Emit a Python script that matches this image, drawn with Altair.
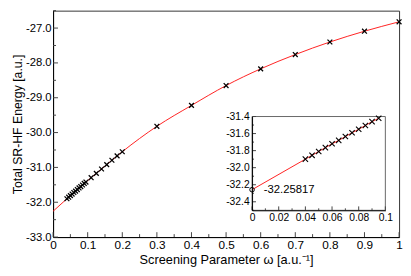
import altair as alt
import pandas as pd

# ---- data ----
w_zero = [0.0]
E_zero = [-32.25817]
w_dense = [0.04, 0.045, 0.05, 0.055, 0.06, 0.065, 0.07, 0.075, 0.08, 0.085, 0.09, 0.095]
E_dense = [-31.90, -31.855, -31.81, -31.765, -31.72, -31.68, -31.635, -31.59, -31.55, -31.505, -31.46, -31.42]
w_mid = [0.11, 0.125, 0.14, 0.155, 0.17, 0.185, 0.2]
E_mid = [-31.295, -31.17, -31.045, -30.92, -30.795, -30.67, -30.55]
w_far = [0.3, 0.4, 0.5, 0.6, 0.7, 0.8, 0.9, 1.0]
E_far = [-29.82, -29.22, -28.65, -28.17, -27.76, -27.40, -27.09, -26.82]

main_xdom = [0, 1]
main_ydom = [-33, -26.5]
main_xmajor = [0, 0.1, 0.2, 0.3, 0.4, 0.5, 0.6, 0.7, 0.8, 0.9, 1.0]
main_xminor = [0.05, 0.15, 0.25, 0.35, 0.45, 0.55, 0.65, 0.75, 0.85, 0.95]
main_ymajor = [-33, -32, -31, -30, -29, -28, -27]
main_yminor = [-32.5, -31.5, -30.5, -29.5, -28.5, -27.5, -26.5]

in_xdom = [0, 0.1]
in_ydom = [-32.5, -31.4]
in_xmajor = [0, 0.02, 0.04, 0.06, 0.08, 0.1]
in_xminor = [0.01, 0.03, 0.05, 0.07, 0.09]
in_ymajor = [-32.4, -32.2, -32.0, -31.8, -31.6, -31.4]
in_yminor = [-32.5, -32.3, -32.1, -31.9, -31.7, -31.5]
point_label = ["-32.25817"]

W, H = 353, 231
PADL = 46
IX0, IX1 = 257 - 8 - PADL, 393 - 8 - PADL
IYB, IYT = 203.7, 108

RED = "#ff2020"
minus_fix = "replace(format(datum.value, '.1f'), '\u2212', '-')"

# ---- main panel ----
mx = alt.Scale(domain=main_xdom, nice=False, zero=False)
my = alt.Scale(domain=main_ydom, nice=False, zero=False)
ax_mx = alt.Axis(orient="bottom", values=main_xmajor, format="~g", ticks=False, grid=False,
                 title="Screening Parameter \u03c9 [a.u.\u207b\u00b9]", labelFontSize=12,
                 titleFontSize=13, titleFontWeight="normal", labelPadding=3, titlePadding=3,
                 domainColor="black", labelColor="black", titleColor="black", labelFlush=False)
ax_my = alt.Axis(orient="left", values=main_ymajor, labelExpr=minus_fix, ticks=False, grid=False,
                 title="Total SR-HF Energy [a.u.]", labelFontSize=11.5, titleFontSize=12.5,
                 titleFontWeight="normal", labelPadding=2, titlePadding=1,
                 domainColor="black", labelColor="black", titleColor="black")

X = lambda f: alt.X(f, type="quantitative", scale=mx, axis=ax_mx)
Y = lambda f: alt.Y(f, type="quantitative", scale=my, axis=ax_my)

line_df = pd.DataFrame({"w": w_zero + w_dense + w_mid + w_far,
                        "E": E_zero + E_dense + E_mid + E_far})
pts_df = pd.DataFrame({"w": w_dense + w_mid + w_far, "E": E_dense + E_mid + E_far})

xshape = "M-1,-1L1,1M-1,1L1,-1"

m_line = alt.Chart(line_df).mark_line(color=RED, strokeWidth=1, interpolate="monotone").encode(x=X("w"), y=Y("E"))
m_pts = alt.Chart(pts_df).mark_point(shape=xshape, filled=False, color="black", size=24, strokeWidth=1.3, opacity=1).encode(x=X("w"), y=Y("E"))

m_xt1 = alt.Chart(pd.DataFrame({"w": main_xmajor})).mark_rule(color="#444").encode(x=X("w"), y=alt.value(H), y2=alt.value(H - 5))
m_xt2 = alt.Chart(pd.DataFrame({"w": main_xminor})).mark_rule(color="#444").encode(x=X("w"), y=alt.value(H), y2=alt.value(H - 3))
m_yt1 = alt.Chart(pd.DataFrame({"E": main_ymajor})).mark_rule(color="#444").encode(y=Y("E"), x=alt.value(0), x2=alt.value(5))
m_yt2 = alt.Chart(pd.DataFrame({"E": main_yminor})).mark_rule(color="#444").encode(y=Y("E"), x=alt.value(0), x2=alt.value(3))

main = alt.layer(m_xt1, m_xt2, m_yt1, m_yt2, m_line, m_pts)

# ---- inset ----
ix = alt.Scale(domain=in_xdom, range=[IX0, IX1], nice=False, zero=False)
iy = alt.Scale(domain=in_ydom, range=[IYB, IYT], nice=False, zero=False)
ax_ix = alt.Axis(orient="bottom", offset=IYB - H, values=in_xmajor, format="~g", ticks=False,
                 grid=False, title=None, labelFontSize=10.5, labelPadding=2, domainColor="black",
                 labelColor="black", zindex=1, labelFlush=False)
ax_iy = alt.Axis(orient="left", offset=-IX0, values=in_ymajor, labelExpr=minus_fix, ticks=False,
                 grid=False, title=None, labelFontSize=10.5, labelPadding=3, domainColor="black",
                 labelColor="black", zindex=1)
IX = lambda f: alt.X(f, type="quantitative", scale=ix, axis=ax_ix)
IY = lambda f: alt.Y(f, type="quantitative", scale=iy, axis=ax_iy)

box_df = pd.DataFrame({"x0": [in_xdom[0]], "x1": [in_xdom[1]], "y0": [in_ydom[0]], "y1": [in_ydom[1]]})
i_box = alt.Chart(box_df).mark_rect(fill="white", stroke="#666", strokeWidth=1).encode(
    x=IX("x0"), x2="x1", y=IY("y0"), y2="y1")

iline_df = pd.DataFrame({"w": w_zero + w_dense, "E": E_zero + E_dense})
ipts_df = pd.DataFrame({"w": w_dense, "E": E_dense})
zero_df = pd.DataFrame({"w": w_zero, "E": E_zero, "t": point_label})

i_line = alt.Chart(iline_df).mark_line(color=RED, strokeWidth=1).encode(x=IX("w"), y=IY("E"))
i_pts = alt.Chart(ipts_df).mark_point(shape=xshape, filled=False, color="black", size=30, strokeWidth=1.1, opacity=1).encode(x=IX("w"), y=IY("E"))
i_circ = alt.Chart(zero_df).mark_point(shape="circle", filled=False, color="black", size=22, strokeWidth=1, opacity=1).encode(x=IX("w"), y=IY("E"))
i_text = alt.Chart(zero_df).mark_text(align="left", baseline="middle", dx=12, fontSize=11.5, color="black").encode(
    x=IX("w"), y=IY("E"), text="t:N")

i_xt1 = alt.Chart(pd.DataFrame({"w": in_xmajor})).mark_rule(color="#444").encode(x=IX("w"), y=alt.value(IYB), y2=alt.value(IYB - 4))
i_xt2 = alt.Chart(pd.DataFrame({"w": in_xminor})).mark_rule(color="#444").encode(x=IX("w"), y=alt.value(IYB), y2=alt.value(IYB - 2))
i_yt1 = alt.Chart(pd.DataFrame({"E": in_ymajor})).mark_rule(color="#444").encode(y=IY("E"), x=alt.value(IX0), x2=alt.value(IX0 + 4))
i_yt2 = alt.Chart(pd.DataFrame({"E": in_yminor})).mark_rule(color="#444").encode(y=IY("E"), x=alt.value(IX0), x2=alt.value(IX0 + 2))

inset = alt.layer(i_box, i_xt1, i_xt2, i_yt1, i_yt2, i_line, i_pts, i_circ, i_text)

chart = alt.layer(main, inset).resolve_scale(x="independent", y="independent").properties(
    width=W, height=H,
    padding={"left": PADL, "top": 0, "right": 4, "bottom": 37},
    autosize=alt.AutoSizeParams(type="none"),
).configure(font="Liberation Sans").configure_view(stroke="#333", strokeWidth=1)

chart.save("out.html", embed_options={"renderer": "svg", "actions": False})
